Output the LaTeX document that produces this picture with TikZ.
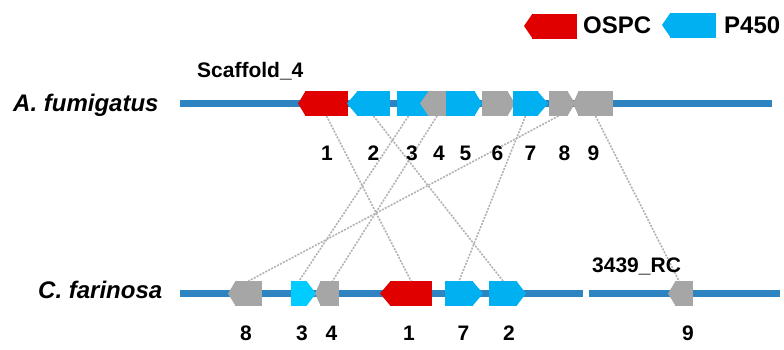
\documentclass[tikz,border=0pt]{standalone}
\usepackage{fontspec}
\setmainfont{Liberation Sans}
\definecolor{bbblue}{RGB}{46,132,193}
\definecolor{genered}{RGB}{224,0,0}
\definecolor{genecyan}{RGB}{0,176,240}
\definecolor{genebright}{RGB}{0,204,255}
\definecolor{genegrey}{RGB}{166,166,166}
\definecolor{linkgrey}{RGB}{178,178,178}
\newcommand\geneL[6]{% name, colour, tip x, body left, body right, y
  \node[genebox, fill=#2, minimum width={(#5-#4)*1pt}] (#1) at ({(#4+#5)/2},#6) {};
  \fill[#2] ([xshift=0.6pt]#1.north west) -- (#3,#6) -- ([xshift=0.6pt]#1.south west) -- cycle;}
\newcommand\geneR[6]{% name, colour, body left, body right, tip x, y
  \node[genebox, fill=#2, minimum width={(#4-#3)*1pt}] (#1) at ({(#3+#4)/2},#6) {};
  \fill[#2] ([xshift=-0.6pt]#1.north east) -- (#5,#6) -- ([xshift=-0.6pt]#1.south east) -- cycle;}
\begin{document}
\begin{tikzpicture}[x=1pt,y=-1pt,
  genebox/.style={rectangle, inner sep=0pt, outer sep=0pt, minimum height=25pt},
  link/.style={draw=linkgrey, line width=1.6pt, dash pattern=on 2pt off 1.3pt},
  backbone/.style={draw=bbblue, line width=7pt},
  num/.style={font=\bfseries\fontsize{21}{21}\selectfont, anchor=base, inner sep=0pt},
  species/.style={font=\bfseries\itshape\fontsize{24}{24}\selectfont, anchor=base west, inner sep=0pt},
  tag/.style={font=\bfseries\fontsize{21}{21}\selectfont, anchor=base west, inner sep=0pt},
  legtext/.style={font=\bfseries\fontsize{24}{24}\selectfont, anchor=base west, inner sep=0pt}]
\useasboundingbox (0,0) rectangle (784,349);

% backbones
\draw[backbone] (180,103.5) -- (772,103.5);
\draw[backbone] (180,293.5) -- (583,293.5);
\draw[backbone] (589,293.5) -- (780,293.5);

% top genes (A. fumigatus)
\geneL{t1}{genered}{298}{305}{348}{103.5}
\geneL{t2}{genecyan}{347}{357}{390}{103.5}
\geneR{t3}{genecyan}{397}{428}{434}{103.5}
\geneL{t4}{genegrey}{420}{428}{446}{103.5}
\geneR{t5}{genecyan}{446}{475}{482}{103.5}
\geneR{t6}{genegrey}{482}{508}{515}{103.5}
\geneR{t7}{genecyan}{513}{538}{548}{103.5}
\geneR{t8}{genegrey}{549}{568}{575}{103.5}
\geneL{t9}{genegrey}{573}{578}{613}{103.5}

% bottom genes (C. farinosa)
\geneL{b8}{genegrey}{228}{235}{262}{293.5}
\geneR{b3}{genebright}{291}{307}{316}{293.5}
\geneL{b4}{genegrey}{315}{320}{339}{293.5}
\geneL{b1}{genered}{380}{390}{432}{293.5}
\geneR{b7}{genecyan}{445}{473}{483}{293.5}
\geneR{b2}{genecyan}{489}{517}{526}{293.5}
\geneL{b9}{genegrey}{668}{675}{693}{293.5}

% legend
\geneL{legospc}{genered}{524}{532}{577}{26}
\geneL{legp450}{genecyan}{662}{670}{716}{25}
\node[legtext] (lospc) at (583,33) {OSPC};
\node[legtext] (lp450) at (724,33) {P450};

% connectors
\draw[link] (t1.south) -- (b1.north);
\draw[link] (t2.south) -- (b2.north);
\draw[link] ([xshift=-4pt]t3.south) -- (b3.north);
\draw[link] (t4.south) -- ([xshift=3pt]b4.north);
\draw[link] (t7.south) -- (b7.north);
\draw[link] (t8.south) -- (b8.north);
\draw[link] (t9.south) -- ([xshift=-5pt]b9.north);

% texts
\node[species] (afum) at (13,111.5) {A. fumigatus};
\node[species] (cfar) at (38,298) {C. farinosa};
\node[tag] (scaf) at (197,77) {Scaffold\_4};
\node[tag] (rc) at (592,272) {3439\_RC};

\node[num] (n1) at (327,160) {1};
\node[num] (n2) at (373.5,160) {2};
\node[num] (n3) at (412,160) {3};
\node[num] (n4) at (439,160) {4};
\node[num] (n5) at (465.5,160) {5};
\node[num] (n6) at (497.5,160) {6};
\node[num] (n7) at (530.5,160) {7};
\node[num] (n8) at (564.5,160) {8};
\node[num] (n9) at (593.5,160) {9};

\node[num] (m8) at (246,340) {8};
\node[num] (m3) at (302,340) {3};
\node[num] (m4) at (331.5,340) {4};
\node[num] (m1) at (409,340) {1};
\node[num] (m7) at (463.5,340) {7};
\node[num] (m2) at (509,340) {2};
\node[num] (m9) at (688,340) {9};
\end{tikzpicture}
\end{document}
